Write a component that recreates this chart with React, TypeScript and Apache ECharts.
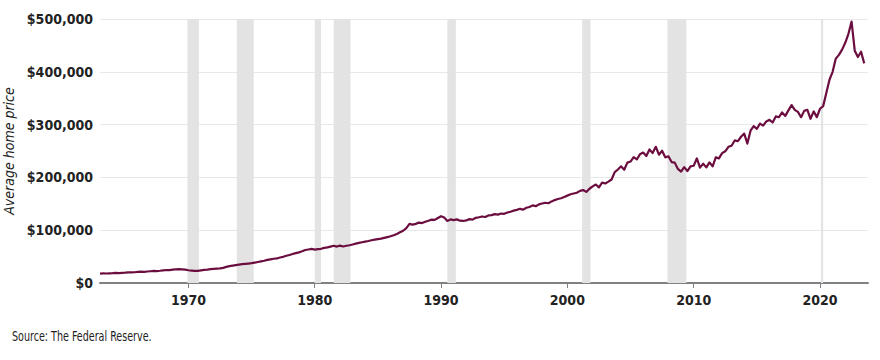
import React, { useEffect, useRef } from "react";
import * as echarts from "echarts";

// Quarterly median home price (thousands of dollars), first point = 1963 Q1
const prices1960s = [
  17.8, 18.2, 18.0, 18.4,
  18.6, 19.0, 18.8, 19.3,
  19.6, 20.1, 20.0, 20.4,
  21.0, 21.5, 21.2, 21.8,
  22.3, 22.8, 22.6, 23.2,
  24.0, 24.6, 24.5, 25.2,
  25.8, 26.4, 25.9, 25.3,
];
const prices1970s = [
  24.2, 23.6, 22.8, 23.0,
  24.0, 25.0, 25.4, 26.2,
  26.8, 27.4, 27.8, 28.6,
  30.5, 32.0, 33.0, 34.0,
  34.8, 35.6, 36.2, 36.8,
  37.5, 38.6, 39.8, 41.0,
  42.2, 43.8, 44.8, 45.9,
  46.5, 48.2, 49.6, 51.5,
  53.0, 54.8, 56.5, 58.0,
  60.0, 62.5, 63.5, 64.5,
];
const prices1980s = [
  63.2, 64.0, 64.8, 66.5,
  67.5, 69.0, 70.5, 69.0,
  70.8, 69.2, 70.5, 71.5,
  73.0, 74.5, 76.0, 77.2,
  78.5, 79.5, 81.0, 82.0,
  83.0, 84.0, 85.5, 87.0,
  88.5, 90.5, 93.0, 96.0,
  99.0, 104.0, 112.0, 110.5,
  112.0, 114.5, 113.5, 116.0,
  118.0, 120.0, 119.5, 123.0,
];
const prices1990s = [
  126.5, 124.0, 117.5, 120.5,
  119.0, 120.5, 118.0, 117.5,
  118.5, 121.0, 120.0, 123.5,
  124.5, 126.0, 125.0, 128.0,
  128.5, 130.5, 129.5, 131.5,
  131.0, 133.5, 135.0, 137.0,
  138.5, 140.5, 139.0, 142.5,
  144.0, 147.0, 145.5, 149.0,
  150.5, 152.0, 151.0, 154.5,
  157.0, 159.0, 160.5, 163.0,
];
const prices2000s = [
  165.5, 168.0, 169.5, 171.0,
  174.5, 176.0, 172.5, 178.5,
  183.0, 186.5, 181.0, 190.0,
  188.5, 192.0, 196.0, 210.0,
  215.0, 221.0, 214.5, 228.0,
  230.0, 238.5, 234.0, 244.0,
  247.0, 240.5, 253.0, 246.0,
  258.0, 243.0, 250.5, 238.0,
  240.0, 229.0, 228.0, 216.0,
  211.0, 219.5, 212.0, 221.0,
];
const prices2010s = [
  222.0, 236.0, 218.5, 226.0,
  219.0, 228.5, 221.0, 238.0,
  236.0, 246.0, 249.5, 258.0,
  260.0, 270.0, 268.5, 277.0,
  283.0, 264.0, 288.5, 297.0,
  292.0, 302.0, 298.0, 306.0,
  309.0, 304.0, 315.5, 314.0,
  323.0, 316.5, 327.0, 337.0,
  328.0, 324.0, 314.0, 326.0,
  328.0, 311.0, 325.0, 314.0,
];
const prices2020s = [
  330.0, 335.0, 360.0, 385.0,
  400.0, 425.0, 432.0, 442.0,
  455.0, 472.0, 495.0, 440.0,
  428.0, 438.0, 416.0,
];

const firstYear = 1963;
const yearTicks = [1970, 1980, 1990, 2000, 2010, 2020];
const priceTicks = [0, 100000, 200000, 300000, 400000, 500000];

// NBER recessions [start, end] as decimal years
const recessions: [number, number][] = [
  [1969.92, 1970.83],
  [1973.83, 1975.17],
  [1980.0, 1980.5],
  [1981.5, 1982.83],
  [1990.5, 1991.17],
  [2001.17, 2001.83],
  [2007.92, 2009.42],
  [2020.08, 2020.25],
];

const FONT = "'Liberation Sans Narrow', 'DejaVu Sans Condensed', 'Roboto Condensed', 'Noto Sans', sans-serif";

export default function App() {
  const ref = useRef<HTMLDivElement>(null);

  useEffect(() => {
    document.body.style.margin = "0";
    if (!ref.current) return;
    const chart = echarts.init(ref.current, null, { renderer: "svg" });

    const all = [
      ...prices1960s,
      ...prices1970s,
      ...prices1980s,
      ...prices1990s,
      ...prices2000s,
      ...prices2010s,
      ...prices2020s,
    ];
    const data = all.map((v, i) => [firstYear + i / 4, v * 1000]);

    const option: any = {
      animation: false,
      textStyle: { fontFamily: FONT },
      grid: {
        left: 100,
        right: 12,
        top: 19,
        bottom: 77,
        containLabel: false,
        outerBoundsMode: "none",
      },
      xAxis: {
        type: "value",
        min: 1963,
        max: 2023.8,
        axisLine: { show: true, lineStyle: { color: "#808080", width: 2 } },
        axisTick: {
          show: true,
          length: 5,
          lineStyle: { color: "#808080", width: 1 },
          customValues: yearTicks,
        },
        axisLabel: {
          customValues: yearTicks,
          color: "#222",
          fontSize: 14,
          fontWeight: "bold",
          fontFamily: FONT,
          margin: 10,
          formatter: (v: number) => String(Math.round(v)),
        },
        splitLine: { show: false },
      },
      yAxis: {
        type: "value",
        min: 0,
        max: 500000,
        interval: 100000,
        name: "Average home price",
        nameLocation: "middle",
        nameGap: 84,
        nameRotate: 90,
        nameMoveOverlap: false,
        nameTextStyle: {
          fontStyle: "italic",
          fontSize: 14,
          color: "#222",
          fontFamily: FONT,
        },
        axisLine: { show: false },
        axisTick: { show: false },
        axisLabel: {
          color: "#222",
          fontSize: 14,
          fontWeight: "bold",
          fontFamily: FONT,
          margin: 7,
          customValues: priceTicks,
          formatter: (v: number) => "$" + v.toLocaleString("en-US"),
        },
        splitLine: { show: true, lineStyle: { color: "#e8e8e8", width: 1 } },
      },
      graphic: [
        {
          type: "text",
          left: 12,
          top: 329,
          scaleX: 0.76,
          style: {
            text: "Source: The Federal Reserve.",
            fontSize: 14,
            fill: "#222",
            fontFamily: FONT,
          },
        },
      ],
      series: [
        {
          type: "line",
          data: [],
          z: 1,
          silent: true,
          markArea: {
            silent: true,
            itemStyle: { color: "#e3e3e3", opacity: 1 },
            data: recessions.map(([a, b]) => [{ xAxis: a }, { xAxis: b }]),
          },
        },
        {
          type: "line",
          data,
          z: 3,
          symbol: "none",
          lineStyle: { color: "#6c0d3f", width: 2.2, join: "round" },
        },
      ],
    };

    chart.setOption(option);
    return () => chart.dispose();
  }, []);

  return <div ref={ref} style={{ width: 880, height: 360 }} />;
}
